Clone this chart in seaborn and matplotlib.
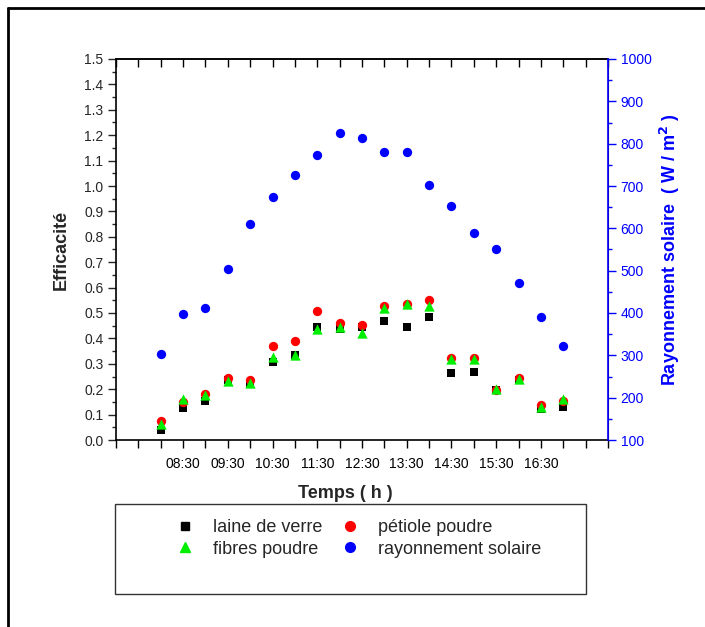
import numpy as np
import pandas as pd
import matplotlib
matplotlib.use("Agg")
import matplotlib.pyplot as plt
from matplotlib.lines import Line2D
from matplotlib.patches import Rectangle
import seaborn as sns

# ---- data ----
hours = [8.0, 8.5, 9.0, 9.5, 10.0, 10.5, 11.0, 11.5, 12.0, 12.5, 13.0, 13.5,
         14.0, 14.5, 15.0, 15.5, 16.0, 16.5, 17.0]
laine_de_verre = [0.039, 0.125, 0.154, 0.235, 0.222, 0.308, 0.335, 0.444, 0.436, 0.444,
                  0.470, 0.445, 0.484, 0.264, 0.266, 0.197, 0.236, 0.121, 0.129]
petiole_poudre = [0.075, 0.151, 0.181, 0.245, 0.237, 0.370, 0.389, 0.508, 0.462, 0.453,
                  0.529, 0.534, 0.551, 0.323, 0.322, 0.197, 0.245, 0.136, 0.152]
fibres_poudre = [0.063, 0.160, 0.176, 0.232, 0.223, 0.328, 0.333, 0.436, 0.446, 0.420,
                 0.518, 0.534, 0.529, 0.319, 0.319, 0.200, 0.239, 0.129, 0.163]
rayonnement = [304, 398, 412, 505, 611, 674, 725, 773, 826, 813, 780, 781,
               702, 653, 588, 550, 472, 391, 323]
tick_positions = [8.5, 9.5, 10.5, 11.5, 12.5, 13.5, 14.5, 15.5, 16.5]
tick_labels = ["08:30", "09:30", "10:30", "11:30", "12:30", "13:30", "14:30", "15:30", "16:30"]

eff = pd.DataFrame({
    "Temps": hours * 3,
    "Efficacité": laine_de_verre + petiole_poudre + fibres_poudre,
    "serie": ["laine de verre"] * len(hours) + ["pétiole poudre"] * len(hours)
             + ["fibres poudre"] * len(hours),
})
ray = pd.DataFrame({"Temps": hours, "Rayonnement": rayonnement})

sns.set_style("ticks")
plt.rcParams["font.family"] = ["Liberation Sans", "DejaVu Sans"]

W, H = 705, 627
fig = plt.figure(figsize=(W / 100, H / 100), dpi=100)
ax = fig.add_axes([116 / W, 1 - 440 / H, (608 - 116) / W, (440 - 59) / H])

palette = {"laine de verre": "black", "pétiole poudre": "red", "fibres poudre": "#00ee00"}
markers = {"laine de verre": "s", "pétiole poudre": "o", "fibres poudre": "^"}
sizes_map = {"laine de verre": 30, "pétiole poudre": 45, "fibres poudre": 55}
for name in ["laine de verre", "pétiole poudre", "fibres poudre"]:
    sub = eff[eff["serie"] == name]
    sns.scatterplot(data=sub, x="Temps", y="Efficacité", ax=ax, color=palette[name],
                    marker=markers[name], s=sizes_map[name], linewidth=0, label=name,
                    legend=False, zorder=3)

ax2 = ax.twinx()
sns.scatterplot(data=ray, x="Temps", y="Rayonnement", ax=ax2, color="#0000ff",
                marker="o", s=45, linewidth=0, legend=False, zorder=3)

ax.set_xlim(7, 18)
ax.set_ylim(0, 1.5)
ax2.set_ylim(100, 1000)

all_x = np.arange(7, 18.01, 0.5)
ax.set_xticks(all_x)
ax.set_xticklabels([tick_labels[tick_positions.index(t)] if t in tick_positions else ""
                    for t in all_x])
ax.set_yticks(np.arange(0, 1.501, 0.1))
ax.set_yticklabels([f"{v:.1f}" for v in np.arange(0, 1.501, 0.1)])
ax.set_yticks(np.arange(0.05, 1.5, 0.1), minor=True)
ax2.set_yticks(np.arange(100, 1001, 100))
ax2.set_yticks(np.arange(150, 1000, 100), minor=True)

ax.tick_params(axis="x", which="major", direction="out", length=6, width=1,
               top=False, labelsize=10, colors="black", pad=6)
ax.tick_params(axis="y", which="major", direction="out", length=6, width=1, labelsize=10, pad=3)
ax.tick_params(axis="y", which="minor", direction="out", length=3, width=1)
ax2.tick_params(axis="y", which="major", direction="out", length=6, width=1,
                colors="#0000ff", labelsize=10, pad=3)
ax2.tick_params(axis="y", which="minor", direction="out", length=3, width=1, colors="#0000ff")

# top ticks pointing inward
top = ax.secondary_xaxis("top")
top.set_xticks(all_x)
top.set_xticklabels([])
top.tick_params(axis="x", direction="in", length=6, width=1, colors="black")
top.spines["top"].set_linewidth(1.2)

for s in ["left", "bottom", "top"]:
    ax.spines[s].set_color("black")
    ax.spines[s].set_linewidth(1.2)
ax2.spines["right"].set_color("#0000ff")
ax2.spines["right"].set_linewidth(1.2)
ax2.spines["left"].set_visible(False)
ax2.spines["top"].set_visible(False)
ax2.spines["bottom"].set_visible(False)

ax.set_xlabel("")
ax.set_ylabel("Efficacité", fontsize=13, fontweight="bold", labelpad=10)
ax2.set_ylabel("Rayonnement solaire  ( W / m$^{\\mathbf{2}}$ )", fontsize=13,
               fontweight="bold", color="#0000ff", labelpad=5)
fig.text(345 / W, 1 - 493 / H, "Temps ( h )", fontsize=13, fontweight="bold",
         ha="center", va="center")

# legend
fig.patches.append(Rectangle((115 / W, 1 - 594 / H), 471 / W, 90 / H,
                             transform=fig.transFigure, fill=False,
                             edgecolor="#333333", linewidth=1))
handles = [
    Line2D([], [], ls="none", marker="s", color="black", markersize=6),
    Line2D([], [], ls="none", marker="^", color="#00ee00", markersize=7),
    Line2D([], [], ls="none", marker="o", color="red", markersize=7),
    Line2D([], [], ls="none", marker="o", color="#0000ff", markersize=7),
]
labels = ["laine de verre", "fibres poudre", "pétiole poudre", "rayonnement solaire"]
fig.legend(handles, labels, ncol=2, loc="upper left",
           bbox_to_anchor=(162 / W, 1 - 510 / H), frameon=False, fontsize=13,
           handlelength=1.6, handletextpad=0.72, columnspacing=0.75,
           labelspacing=0.25, borderpad=0)

# outer frame
fig.lines.append(Line2D([8 / W, 1.0], [1 - 8 / H, 1 - 8 / H], transform=fig.transFigure,
                        color="black", linewidth=2))
fig.lines.append(Line2D([8 / W, 8 / W], [1 - 8 / H, 0], transform=fig.transFigure,
                        color="black", linewidth=2))

fig.savefig("out.png", dpi=100)
